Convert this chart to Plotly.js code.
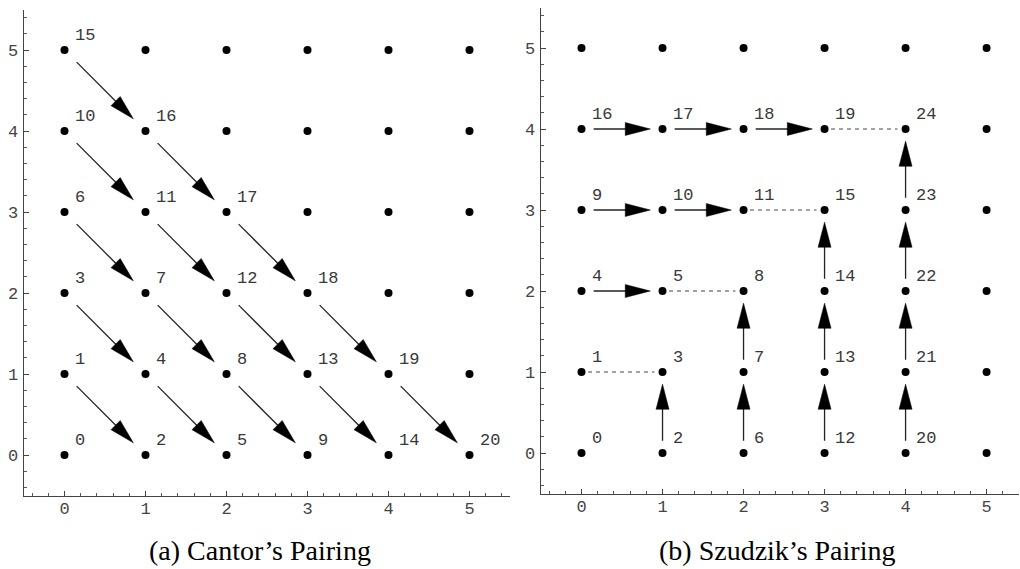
<!DOCTYPE html>
<html>
<head>
<meta charset="utf-8">
<script src="https://cdn.plot.ly/plotly-3.0.1.min.js"></script>
<style>html,body{margin:0;padding:0;background:#fff;}#chart{width:1020px;height:569px;}</style>
</head>
<body>
<div id="chart"></div>
<script>
// ---- grid ----
var gridX = [0, 1, 2, 3, 4, 5];
var gridY = [0, 1, 2, 3, 4, 5];

// ---- Cantor's pairing ----
var cantorLabelX = [0, 0, 1, 0, 1, 2, 0, 1, 2, 3, 0, 1, 2, 3, 4, 0, 1, 2, 3, 4, 5];
var cantorLabelY = [0, 1, 0, 2, 1, 0, 3, 2, 1, 0, 4, 3, 2, 1, 0, 5, 4, 3, 2, 1, 0];
var cantorLabelText = ["0","1","2","3","4","5","6","7","8","9","10","11","12","13","14","15","16","17","18","19","20"];

var cantorArrowFromX = [0, 0, 1, 0, 1, 2, 0, 1, 2, 3, 0, 1, 2, 3, 4];
var cantorArrowFromY = [1, 2, 1, 3, 2, 1, 4, 3, 2, 1, 5, 4, 3, 2, 1];
var cantorArrowToX   = [1, 1, 2, 1, 2, 3, 1, 2, 3, 4, 1, 2, 3, 4, 5];
var cantorArrowToY   = [0, 1, 0, 2, 1, 0, 3, 2, 1, 0, 4, 3, 2, 1, 0];

// ---- Szudzik's pairing ----
var szudzikLabelX = [0, 0, 1, 1, 0, 1, 2, 2, 2, 0, 1, 2, 3, 3, 3, 3, 0, 1, 2, 3, 4, 4, 4, 4, 4];
var szudzikLabelY = [0, 1, 0, 1, 2, 2, 0, 1, 2, 3, 3, 3, 0, 1, 2, 3, 4, 4, 4, 4, 0, 1, 2, 3, 4];
var szudzikLabelText = ["0","1","2","3","4","5","6","7","8","9","10","11","12","13","14","15","16","17","18","19","20","21","22","23","24"];

var szudzikArrowFromX = [0, 1, 2, 0, 1, 0, 1, 2, 2, 3, 3, 3, 4, 4, 4, 4];
var szudzikArrowFromY = [4, 4, 4, 3, 3, 2, 0, 0, 1, 0, 1, 2, 0, 1, 2, 3];
var szudzikArrowToX   = [1, 2, 3, 1, 2, 1, 1, 2, 2, 3, 3, 3, 4, 4, 4, 4];
var szudzikArrowToY   = [4, 4, 4, 3, 3, 2, 1, 1, 2, 1, 2, 3, 1, 2, 3, 4];

var szudzikDashFromX = [0, 1, 2, 3];
var szudzikDashFromY = [1, 2, 3, 4];
var szudzikDashToX   = [1, 2, 3, 4];
var szudzikDashToY   = [1, 2, 3, 4];

var captions = ["(a) Cantor\u2019s Pairing", "(b) Szudzik\u2019s Pairing"];

// ---- styles ----
var labelFont = {family: "Liberation Mono, Courier New, monospace", size: 17, color: "#383838"};
var tickFont = {family: "Liberation Mono, Courier New, monospace", size: 17, color: "#444"};
var START = 0.15, END = 0.85, HEADLEN = 0.31, HEADHALF = 0.08;

function gridDots(xa, ya) {
  var xs = [], ys = [];
  gridX.forEach(function (gx) { gridY.forEach(function (gy) { xs.push(gx); ys.push(gy); }); });
  return {x: xs, y: ys, xaxis: xa, yaxis: ya, type: "scatter", mode: "markers",
          marker: {color: "#000", size: 8}, hoverinfo: "skip", cliponaxis: false};
}

function arrowTraces(fx, fy, tx, ty, xa, ya) {
  var lx = [], ly = [], hx = [], hy = [];
  for (var i = 0; i < fx.length; i++) {
    var dx = tx[i] - fx[i], dy = ty[i] - fy[i];
    var len = Math.sqrt(dx * dx + dy * dy);
    var ux = dx / len, uy = dy / len;
    var sx = fx[i] + START * dx, sy = fy[i] + START * dy;
    var ex = fx[i] + END * dx, ey = fy[i] + END * dy;
    var bx = ex - HEADLEN * ux, by = ey - HEADLEN * uy;
    var nx = -uy, ny = ux;
    lx.push(sx, bx + 0.05 * ux, null); ly.push(sy, by + 0.05 * uy, null);
    hx.push(ex, bx + HEADHALF * nx, bx - HEADHALF * nx, ex, null);
    hy.push(ey, by + HEADHALF * ny, by - HEADHALF * ny, ey, null);
  }
  return [
    {x: lx, y: ly, xaxis: xa, yaxis: ya, type: "scatter", mode: "lines",
     line: {color: "#222", width: 1.3}, hoverinfo: "skip"},
    {x: hx, y: hy, xaxis: xa, yaxis: ya, type: "scatter", mode: "lines", fill: "toself",
     fillcolor: "#000", line: {color: "#000", width: 0.5}, hoverinfo: "skip"}
  ];
}

function dashTrace(fx, fy, tx, ty, xa, ya) {
  var lx = [], ly = [];
  for (var i = 0; i < fx.length; i++) {
    var dx = tx[i] - fx[i], dy = ty[i] - fy[i];
    lx.push(fx[i] + 0.08 * dx, fx[i] + 0.9 * dx, null);
    ly.push(fy[i] + 0.08 * dy, fy[i] + 0.9 * dy, null);
  }
  return {x: lx, y: ly, xaxis: xa, yaxis: ya, type: "scatter", mode: "lines",
          line: {color: "#444", width: 1.1, dash: "4px,4px"}, hoverinfo: "skip"};
}

function labelAnnots(xs, ys, txt, xr, yr) {
  return xs.map(function (x, i) {
    return {x: x + 0.1, y: ys[i] + 0.18, xref: xr, yref: yr, text: txt[i], showarrow: false,
            xanchor: "left", yanchor: "middle", font: labelFont};
  });
}

var traces = [];
traces.push(gridDots("x", "y"));
traces = traces.concat(arrowTraces(cantorArrowFromX, cantorArrowFromY, cantorArrowToX, cantorArrowToY, "x", "y"));
traces.push(gridDots("x2", "y2"));
traces.push(dashTrace(szudzikDashFromX, szudzikDashFromY, szudzikDashToX, szudzikDashToY, "x2", "y2"));
traces = traces.concat(arrowTraces(szudzikArrowFromX, szudzikArrowFromY, szudzikArrowToX, szudzikArrowToY, "x2", "y2"));

function axis(domain, range, anchor, standoff) {
  return {domain: domain, range: range, anchor: anchor, showgrid: false, zeroline: false,
          showline: true, linecolor: "#444", linewidth: 1.5, mirror: false,
          tickmode: "linear", tick0: 0, dtick: 1, ticks: "inside", ticklen: 5, tickwidth: 1,
          tickcolor: "#444", tickfont: tickFont, ticklabelstandoff: standoff,
          minor: {tick0: 0, dtick: 0.2, ticks: "inside", ticklen: 2.5, tickwidth: 1, tickcolor: "#555"},
          fixedrange: true};
}

var annotations = []
  .concat(labelAnnots(cantorLabelX, cantorLabelY, cantorLabelText, "x", "y"))
  .concat(labelAnnots(szudzikLabelX, szudzikLabelY, szudzikLabelText, "x2", "y2"));
annotations.push({x: 260 / 1020, y: 0.032, xref: "paper", yref: "paper", text: captions[0], showarrow: false,
  xanchor: "center", yanchor: "middle", font: {family: "Liberation Serif, Times New Roman, serif", size: 28, color: "#000"}});
annotations.push({x: 777 / 1020, y: 0.032, xref: "paper", yref: "paper", text: captions[1], showarrow: false,
  xanchor: "center", yanchor: "middle", font: {family: "Liberation Serif, Times New Roman, serif", size: 28, color: "#000"}});

var layout = {
  width: 1020, height: 569,
  margin: {l: 0, r: 0, t: 0, b: 0},
  paper_bgcolor: "#fff", plot_bgcolor: "#fff",
  showlegend: false,
  xaxis: axis([24 / 1020, 510 / 1020], [-0.5, 5.5], "y", -3),
  yaxis: axis([73.5 / 569, 559.5 / 569], [-0.5, 5.5], "x", 1),
  xaxis2: axis([541 / 1020, 1019 / 1020], [-0.5, 5.4], "y2", -3),
  yaxis2: axis([75.5 / 569, 561.5 / 569], [-0.5, 5.5], "x2", 1),
  annotations: annotations
};

Plotly.newPlot("chart", traces, layout, {staticPlot: true, displayModeBar: false});
</script>
</body>
</html>
